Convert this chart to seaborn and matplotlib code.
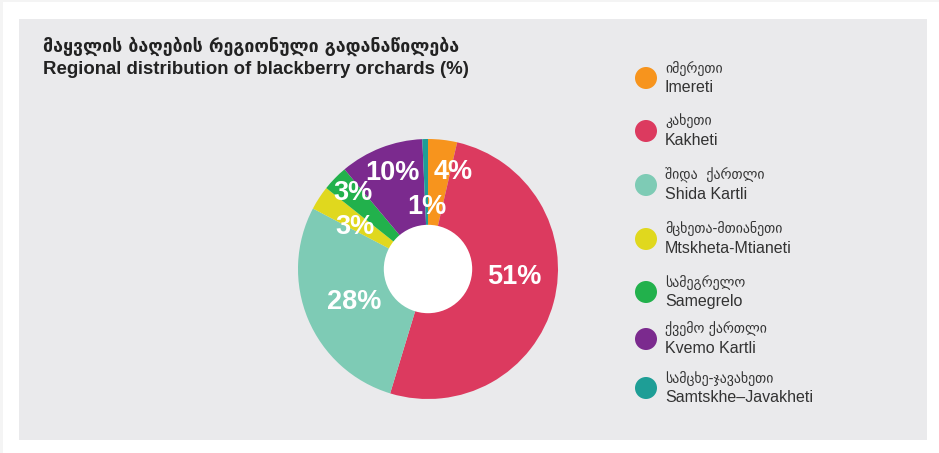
import matplotlib
matplotlib.use("Agg")
import matplotlib.pyplot as plt
import seaborn as sns
import numpy as np
from matplotlib.patches import Circle, Rectangle

# ---- data ----
regions_ka = ["იმერეთი", "კახეთი", "შიდა  ქართლი", "მცხეთა-მთიანეთი",
              "სამეგრელო", "ქვემო ქართლი", "სამცხე-ჯავახეთი"]
regions_en = ["Imereti", "Kakheti", "Shida Kartli", "Mtskheta-Mtianeti",
              "Samegrelo", "Kvemo Kartli", "Samtskhe\u2013Javakheti"]
shares = [3.6, 51.1, 28.0, 3.0, 3.2, 10.4, 0.7]
labels = ["4%", "51%", "28%", "3%", "3%", "10%", "1%"]
colors = ["#f7941d", "#dc3a5f", "#7ecbb5", "#e0d81e", "#22b14c", "#7b2a8e", "#1e9e96"]
# label placement (style): radial fraction and angular shift (deg, clockwise)
label_radius = [0.77, 0.67, 0.62, 0.65, 0.82, 0.79, 0.48]
label_shift = [8.0, -9.6, -1.6, -3.0, 1.0, 1.0, 0.0]

title_ka = "მაყვლის ბაღების რეგიონული გადანაწილება"
title_en = "Regional distribution of blackberry orchards (%)"

sns.set_theme(style="white")
plt.rcParams['font.family'] = ['Liberation Sans', 'DejaVu Sans']

W, H = 939, 453
fig = plt.figure(figsize=(W / 100, H / 100), dpi=100)
fig.patch.set_facecolor("white")

# faint outer edges and gray panel
fig.patches.append(Rectangle((0, 0), 3 / W, 1, transform=fig.transFigure,
                             facecolor="#f4f4f4", edgecolor="none", zorder=-6))
fig.patches.append(Rectangle((0, 1 - 2 / H), 1, 2 / H, transform=fig.transFigure,
                             facecolor="#f4f4f4", edgecolor="none", zorder=-6))
fig.patches.append(Rectangle((19 / W, (H - 440) / H), (927 - 19) / W, (440 - 19) / H,
                             transform=fig.transFigure, facecolor="#eaeaec",
                             edgecolor="none", zorder=-5))

# titles
fig.text(43 / W, 1 - 52 / H, title_ka, fontsize=12.8, fontweight="bold", color="#222222",
         family=['DejaVu Sans'], va="baseline", ha="left")
fig.text(43 / W, 1 - 74 / H, title_en, fontsize=13.4, fontweight="bold",
         color="#222222", va="baseline", ha="left")

# donut
cx, cy, r = 428, 269, 130
ax = fig.add_axes([(cx - r) / W, (H - cy - r) / H, 2 * r / W, 2 * r / H], zorder=2)
ax.set_facecolor("none")
wedges, _ = ax.pie(shares, colors=colors, startangle=90, counterclock=False,
                   radius=1, wedgeprops=dict(linewidth=0))
ax.add_patch(Circle((0, 0), 0.34, facecolor="white", edgecolor="none", zorder=5))
for w, lab, lr, sh in zip(wedges, labels, label_radius, label_shift):
    ang = np.deg2rad((w.theta1 + w.theta2) / 2 - sh)
    ax.text(lr * np.cos(ang), lr * np.sin(ang), lab, ha="center", va="center",
            fontsize=19.5, fontweight="bold", color="white", zorder=6)
ax.set_xlim(-1, 1)
ax.set_ylim(-1, 1)
ax.axis("off")

# legend
leg_y = [78, 131, 185, 239, 292, 339, 388]
lax = fig.add_axes([0, 0, 1, 1], zorder=1)
lax.set_xlim(0, W)
lax.set_ylim(H, 0)
lax.axis("off")
lax.set_facecolor("none")
for y, c, ka, en in zip(leg_y, colors, regions_ka, regions_en):
    lax.add_patch(Circle((646, y), 11, facecolor=c, edgecolor="none"))
    lax.text(665, y - 5.5, ka, fontsize=10, color="#333333", family=['DejaVu Sans'],
             va="baseline", ha="left")
    lax.text(665, y + 14, en, fontsize=11.5, color="#333333", va="baseline", ha="left")

fig.savefig("out.png", dpi=100)
